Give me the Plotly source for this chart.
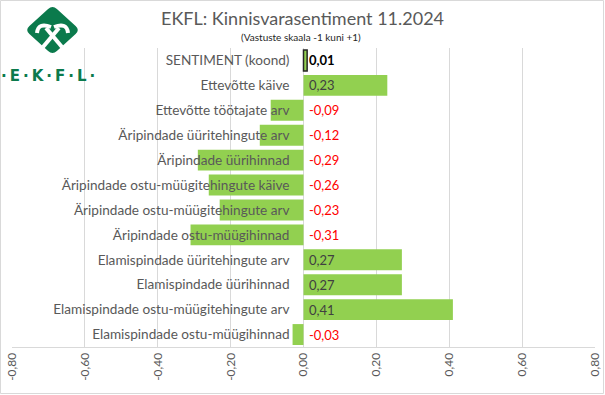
import plotly.graph_objects as go

# ---------------- data ----------------
CATEGORIES = [
    "SENTIMENT (koond)",
    "Ettevõtte käive",
    "Ettevõtte töötajate arv",
    "Äripindade üüritehingute arv",
    "Äripindade üürihinnad",
    "Äripindade ostu-müügitehingute käive",
    "Äripindade ostu-müügitehingute arv",
    "Äripindade ostu-müügihinnad",
    "Elamispindade üüritehingute arv",
    "Elamispindade üürihinnad",
    "Elamispindade ostu-müügitehingute arv",
    "Elamispindade ostu-müügihinnad",
]
VALUES = [0.01, 0.23, -0.09, -0.12, -0.29, -0.26, -0.23, -0.31, 0.27, 0.27, 0.41, -0.03]
TICK_VALS = [-0.8, -0.6, -0.4, -0.2, 0.0, 0.2, 0.4, 0.6, 0.8]
TICK_TEXT = ["-0,80", "-0,60", "-0,40", "-0,20", "0,00", "0,20", "0,40", "0,60", "0,80"]
TITLE = "EKFL: Kinnisvarasentiment 11.2024"
SUBTITLE = "(Vastuste skaala -1 kuni +1)"
LOGO_TEXT = "·\u2009E\u2009·\u2009K\u2009·\u2009F\u2009·\u2009L\u2009·"

# ---------------- layout geometry ----------------
W, H = 605, 395
ML, MR, MT, MB = 12, 10, 48, 48
PW = W - ML - MR
PH = H - MT - MB
FONT = "Lato"
GREEN = "#92D050"
LOGO_GREEN = "#0B7A4C"
GRID = "#D9D9D9"


def px(x):
    return (x - ML) / PW


def py(y):
    return (H - MB - y) / PH


def path_from(points, closed=True, round_frac=0.0):
    if round_frac <= 0:
        s = "M " + " L ".join(f"{px(x):.5f},{py(y):.5f}" for x, y in points)
        return s + (" Z" if closed else "")
    n = len(points)
    segs = []
    for i in range(n):
        p0 = points[i - 1]
        p1 = points[i]
        p2 = points[(i + 1) % n]
        a = (p1[0] + (p0[0] - p1[0]) * round_frac, p1[1] + (p0[1] - p1[1]) * round_frac)
        b = (p1[0] + (p2[0] - p1[0]) * round_frac, p1[1] + (p2[1] - p1[1]) * round_frac)
        cmd = "M" if i == 0 else "L"
        segs.append(f"{cmd} {px(a[0]):.5f},{py(a[1]):.5f}")
        segs.append(f"Q {px(p1[0]):.5f},{py(p1[1]):.5f} {px(b[0]):.5f},{py(b[1]):.5f}")
    return " ".join(segs) + " Z"


def qpath(p0, c, p1):
    return (f"M {px(p0[0]):.5f},{py(p0[1]):.5f} Q {px(c[0]):.5f},{py(c[1]):.5f} "
            f"{px(p1[0]):.5f},{py(p1[1]):.5f}")


fig = go.Figure()

line_widths = [1.5 if i == 0 else 0 for i in range(len(VALUES))]
fig.add_trace(go.Bar(
    x=VALUES,
    y=CATEGORIES,
    orientation="h",
    marker=dict(color=GREEN, line=dict(color="#262626", width=line_widths)),
    hoverinfo="skip",
))

annotations = []
for i, (cat, v) in enumerate(zip(CATEGORIES, VALUES)):
    txt = f"{v:.2f}".replace(".", ",")
    if i == 0:
        color = "#000000"
        txt = f"<b>{txt}</b>"
    elif v < 0:
        color = "#FF0000"
    else:
        color = "#404040"
    annotations.append(dict(
        x=0, y=cat, xref="x", yref="y", text=txt, showarrow=False,
        xanchor="left", yanchor="middle", xshift=3,
        font=dict(family=FONT, size=13, color=color),
    ))

annotations.append(dict(
    x=px(302), y=py(18), xref="paper", yref="paper", text=TITLE, showarrow=False,
    xanchor="center", yanchor="middle",
    font=dict(family=FONT, size=18, color="#595959"),
))
annotations.append(dict(
    x=px(301), y=py(37), xref="paper", yref="paper", text=SUBTITLE, showarrow=False,
    xanchor="center", yanchor="middle",
    font=dict(family=FONT, size=10, color="#262626"),
))
annotations.append(dict(
    x=px(48), y=py(76), xref="paper", yref="paper", text=f"<b>{LOGO_TEXT}</b>",
    showarrow=False, xanchor="center", yanchor="middle",
    font=dict(family="DejaVu Sans", size=15, color=LOGO_GREEN),
))

shapes = [
    # outer chart border
    dict(type="rect", xref="paper", yref="paper",
         x0=px(0.5), x1=px(W - 1.5), y0=py(H - 1.5), y1=py(0.5),
         line=dict(color=GRID, width=1), fillcolor="rgba(0,0,0,0)", layer="below"),
    # logo diamond
    dict(type="path", xref="paper", yref="paper",
         path=path_from([(52.5, 5), (80, 30), (52.5, 55), (25, 30)], round_frac=0.16),
         fillcolor=LOGO_GREEN, line=dict(width=0)),
    # hammer handles
    dict(type="path", xref="paper", yref="paper",
         path=path_from([(46, 28), (62, 47)], closed=False),
         line=dict(color="white", width=4)),
    dict(type="path", xref="paper", yref="paper",
         path=path_from([(59, 28), (43, 47)], closed=False),
         line=dict(color="white", width=4)),
    # hammer heads
    dict(type="path", xref="paper", yref="paper",
         path=qpath((37, 33), (38, 22), (51, 27)),
         line=dict(color="white", width=4)),
    dict(type="path", xref="paper", yref="paper",
         path=qpath((68, 33), (67, 22), (54, 27)),
         line=dict(color="white", width=4)),
]

fig.update_layout(
    width=W, height=H,
    margin=dict(l=ML, r=MR, t=MT, b=MB, pad=0, autoexpand=False),
    paper_bgcolor="white", plot_bgcolor="white",
    showlegend=False,
    bargap=0.16,
    annotations=annotations,
    shapes=shapes,
    xaxis=dict(
        range=[-0.8, 0.8], tickvals=TICK_VALS, ticktext=TICK_TEXT,
        tickangle=-90, showgrid=True, gridcolor=GRID, gridwidth=1,
        zeroline=True, zerolinecolor=GRID, zerolinewidth=1,
        showline=True, linecolor=GRID, linewidth=1,
        ticks="", tickfont=dict(family=FONT, size=12, color="#595959"),
        fixedrange=True, automargin=False,
    ),
    yaxis=dict(
        autorange="reversed", anchor="free", position=0.5,
        showgrid=False, zeroline=False, showline=False, ticks="",
        ticklabelstandoff=14,
        tickfont=dict(family=FONT, size=13.6, color="#595959"),
        fixedrange=True, automargin=False,
    ),
)

fig.write_html(
    "out.html",
    config={"displayModeBar": False, "staticPlot": True},
    post_script="document.body.style.margin='0';document.body.style.overflow='hidden';",
)
